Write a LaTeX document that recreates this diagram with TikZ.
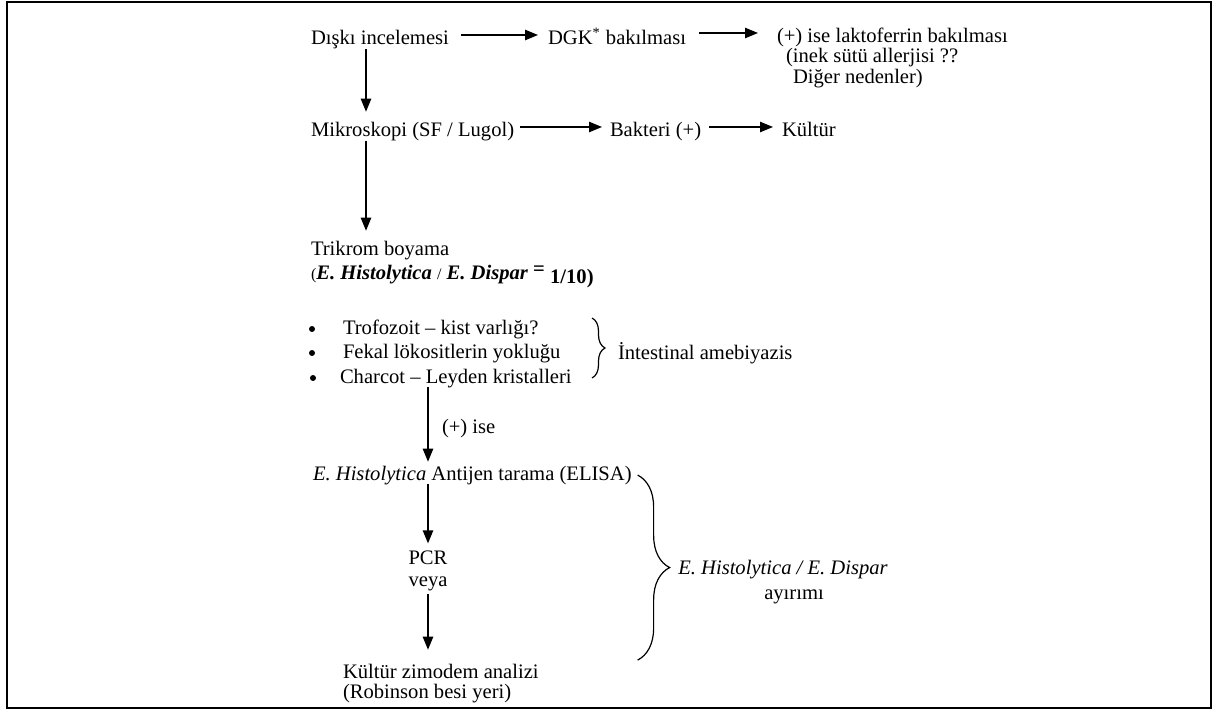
\documentclass[tikz,border=0pt]{standalone}
\usepackage{fontspec}
\setmainfont{Liberation Serif}
\usetikzlibrary{arrows.meta,decorations.pathreplacing}
\begin{document}
\begin{tikzpicture}[x=0.5pt,y=-0.5pt,
  txt/.style={inner sep=0pt,outer sep=0pt,font=\fontsize{10.3}{12.4}\selectfont,anchor=base west},
  ctxt/.style={txt,anchor=base},
  arr/.style={line width=0.65pt,-{Triangle[length=6.5pt,width=5.2pt]}},
  brc/.style={line width=0.6pt,decorate,decoration={brace,amplitude=#1}},
  dot/.style={circle,fill,inner sep=0pt,minimum size=3pt}]
\useasboundingbox (0,0) rectangle (1215,711);
\draw[line width=1.3pt] (7,2) rectangle (1211,708);
% row 1
\node[txt] (diski) at (311,45) {Dışkı incelemesi};
\node[txt] (dgk) at (548,45) {DGK\textsuperscript{*} bakılması};
\node[txt] (lakto) at (777,43) {(+) ise laktoferrin bakılması};
\node[txt] (lakto2) at (786,63) {(inek sütü allerjisi ??};
\node[txt] (lakto3) at (793,84) {Diğer nedenler)};
% row 2
\node[txt] (mikro) at (311,137) {Mikroskopi (SF / Lugol)};
\node[txt] (bakteri) at (610,137) {Bakteri (+)};
\node[txt] (kultur) at (782,137) {Kültür};
% trikrom
\node[txt] (tri) at (311,256) {Trikrom boyama};
\node[txt] (tri2) at (311,279) {{\fontsize{8}{9}\selectfont(}\textbf{\textit{E. Histolytica}} {\fontsize{8}{9}\selectfont/} \textbf{\textit{E. Dispar}} \raisebox{1.7pt}{\textbf{=}} \raisebox{-2.2pt}{\textbf{1/10)}}};
% bullets
\node[dot] (d1) at (312,329) {};
\node[dot] (d2) at (312,353) {};
\node[dot] (d3) at (313,378) {};
\node[txt] (i1) at (343,334) {Trofozoit – kist varlığı?};
\node[txt] (i2) at (343,358) {Fekal lökositlerin yokluğu};
\node[txt] (i3) at (340,383) {Charcot – Leyden kristalleri};
\node[txt] (intest) at (618,359) {İntestinal amebiyazis};
\coordinate (br1t) at (592,318);
\coordinate (br1b) at (592,378);
\draw[brc=6.5pt] (br1t) -- (br1b);
% lower part
\coordinate (c3) at (428,0);
\node[txt] (ise) at (442,433) {(+) ise};
\node[txt] (elisa) at (313,480) {\textit{E. Histolytica} Antijen tarama (ELISA)};
\node[ctxt] (pcr) at (428,564) {PCR};
\node[ctxt] (veya) at (428,586) {veya};
\node[txt] (kz) at (343,678) {Kültür zimodem analizi};
\node[txt] (rob) at (343,698) {(Robinson besi yeri)};
\node[ctxt] (lab1) at (783,574) {\textit{E. Histolytica / E. Dispar}};
\node[ctxt] (lab2) at (794,599) {ayırımı};
\coordinate (br2t) at ([xshift=3pt]elisa.east);
\path (br2t) ++(0,185) coordinate (br2b);
\draw[brc=16pt] (br2t) -- (br2b);
% horizontal arrows
\draw[arr] ([xshift=6pt,yshift=5pt]diski.base east) -- ([xshift=-5pt,yshift=5pt]dgk.base west);
\draw[arr] ([xshift=6.5pt,yshift=6pt]dgk.base east) -- ([xshift=-9.5pt,yshift=6pt]dgk.base east -| lakto.west);
\draw[arr] ([xshift=3pt,yshift=5pt]mikro.base east) -- ([xshift=-4pt,yshift=5pt]bakteri.base west);
\draw[arr] ([xshift=4pt,yshift=5pt]bakteri.base east) -- ([xshift=-4.5pt,yshift=5pt]kultur.base west);
% vertical arrows
\coordinate (c1) at (366,0);
\draw[arr,shorten >=5.5pt] (diski.south -| c1) -- (mikro.north -| c1);
\draw[arr,shorten >=5.5pt] (mikro.south -| c1) -- (tri.north -| c1);
\draw[arr,shorten >=2pt] (i3.south -| c3) -- (elisa.north -| c3);
\draw[arr,shorten >=3.5pt] (elisa.south -| c3) -- (pcr.north -| c3);
\draw[arr,shorten <=1.75pt,shorten >=7pt] (veya.south -| c3) -- (kz.north -| c3);
\end{tikzpicture}
\end{document}
